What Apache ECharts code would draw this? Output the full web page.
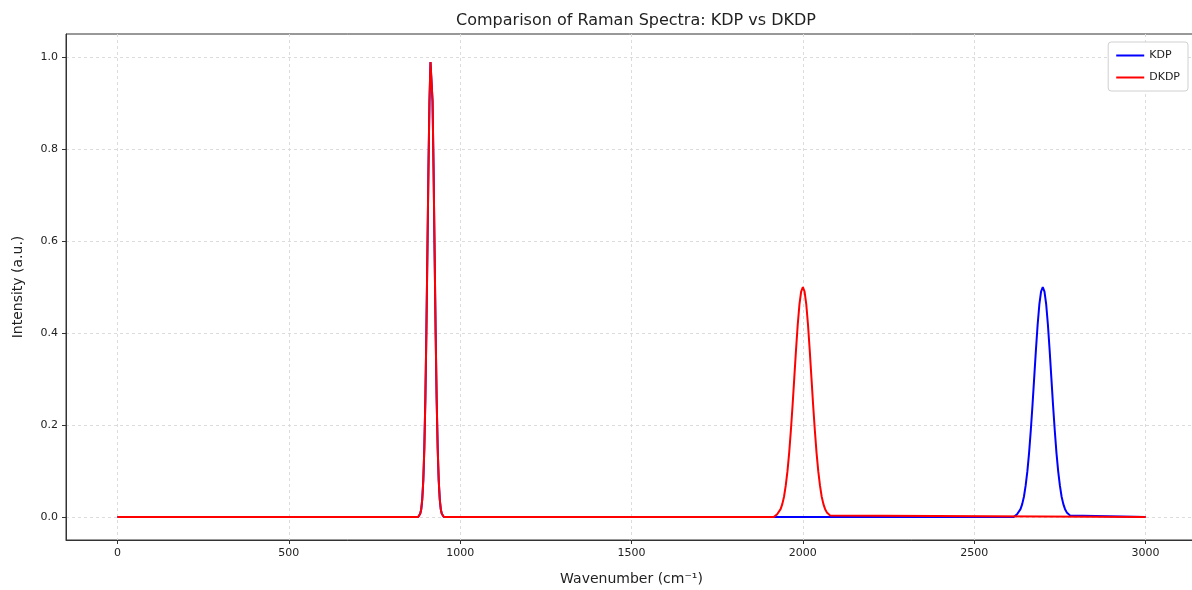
<!DOCTYPE html>
<html>
<head>
<meta charset="utf-8">
<script src="https://cdn.jsdelivr.net/npm/echarts@6/dist/echarts.min.js"></script>
<style>
  html, body { margin: 0; padding: 0; background: #fff; }
  #main { width: 1192px; height: 590px; }
</style>
</head>
<body>
<div id="main"></div>
<script>
// values: [wavenumber, intensity]
var kdpData = [
    [0, 0], [877.5, 0],
    [880.5, 0.003], [883.5, 0.007], [886.5, 0.017], [889.5, 0.039], [892.5, 0.080],
    [895.5, 0.149], [898.5, 0.256], [901.5, 0.402], [904.5, 0.576], [907.5, 0.755],
    [910.5, 0.904], [913.5, 0.989], [916.5, 0.989], [919.5, 0.904], [922.5, 0.755],
    [925.5, 0.576], [928.5, 0.402], [931.5, 0.256], [934.5, 0.149], [937.5, 0.080],
    [940.5, 0.039], [943.5, 0.017], [946.5, 0.007], [949.5, 0.003], [952.5, 0],
    [2615, 0],
    [2620, 0.003], [2625, 0.006], [2630, 0.010], [2635, 0.017], [2640, 0.028],
    [2645, 0.044], [2650, 0.068], [2655, 0.099], [2660, 0.139], [2665, 0.188],
    [2670, 0.243], [2675, 0.303], [2680, 0.363], [2685, 0.418], [2690, 0.462],
    [2695, 0.490], [2700, 0.500], [2705, 0.490], [2710, 0.462], [2715, 0.418],
    [2720, 0.363], [2725, 0.303], [2730, 0.243], [2735, 0.188], [2740, 0.139],
    [2745, 0.099], [2750, 0.068], [2755, 0.044], [2760, 0.028], [2765, 0.017],
    [2770, 0.010], [2775, 0.006], [2780, 0.003], [2785, 0],
    [3000, 0]
];

var dkdpData = [
    [0, 0], [877.5, 0],
    [880.5, 0.003], [883.5, 0.007], [886.5, 0.017], [889.5, 0.039], [892.5, 0.080],
    [895.5, 0.149], [898.5, 0.256], [901.5, 0.402], [904.5, 0.576], [907.5, 0.755],
    [910.5, 0.904], [913.5, 0.989], [916.5, 0.989], [919.5, 0.904], [922.5, 0.755],
    [925.5, 0.576], [928.5, 0.402], [931.5, 0.256], [934.5, 0.149], [937.5, 0.080],
    [940.5, 0.039], [943.5, 0.017], [946.5, 0.007], [949.5, 0.003], [952.5, 0],
    [1915, 0],
    [1920, 0.003], [1925, 0.006], [1930, 0.010], [1935, 0.017], [1940, 0.028],
    [1945, 0.044], [1950, 0.068], [1955, 0.099], [1960, 0.139], [1965, 0.188],
    [1970, 0.243], [1975, 0.303], [1980, 0.363], [1985, 0.418], [1990, 0.462],
    [1995, 0.490], [2000, 0.500], [2005, 0.490], [2010, 0.462], [2015, 0.418],
    [2020, 0.363], [2025, 0.303], [2030, 0.243], [2035, 0.188], [2040, 0.139],
    [2045, 0.099], [2050, 0.068], [2055, 0.044], [2060, 0.028], [2065, 0.017],
    [2070, 0.010], [2075, 0.006], [2080, 0.003], [2085, 0],
    [3000, 0]
];

var xTicks = [0, 500, 1000, 1500, 2000, 2500, 3000];
var yTicks = [0, 0.2, 0.4, 0.6, 0.8, 1.0];

var chart = echarts.init(document.getElementById('main'));
var font = 'DejaVu Sans';

var option = {
    animation: false,
    backgroundColor: '#fff',
    title: {
        text: 'Comparison of Raman Spectra: KDP vs DKDP',
        left: 631,
        textAlign: 'center',
        top: 8,
        textStyle: { fontFamily: font, fontSize: 16, fontWeight: 'normal', color: '#222' }
    },
    legend: {
        data: ['KDP', 'DKDP'],
        orient: 'vertical',
        right: 4,
        top: 42,
        icon: 'rect',
        itemWidth: 28,
        itemHeight: 2,
        itemGap: 11,
        padding: [8, 8, 8, 8],
        borderColor: '#d0d0d0',
        borderWidth: 1,
        borderRadius: 3,
        backgroundColor: '#fff',
        textStyle: { fontFamily: font, fontSize: 11, color: '#222' }
    },
    grid: {
        left: 66, top: 34, width: 1131, height: 506,
        outerBoundsMode: 'none', containLabel: false,
        show: true, borderColor: '#333', borderWidth: 1
    },
    xAxis: {
        type: 'value',
        min: -150,
        max: 3150,
        name: 'Wavenumber (cm⁻¹)',
        nameLocation: 'middle',
        nameGap: 32,
        nameTextStyle: { fontFamily: font, fontSize: 14, color: '#222' },
        axisLine: { show: true, onZero: false, lineStyle: { color: '#333' } },
        axisTick: { show: true, length: 4, customValues: xTicks, lineStyle: { color: '#333' } },
        axisLabel: {
            customValues: xTicks, fontFamily: font, fontSize: 11, color: '#222', margin: 8,
            formatter: function (v) { return String(v); }
        },
        splitLine: { show: true, lineStyle: { color: '#dcdcdc', type: [3, 3] } }
    },
    yAxis: {
        type: 'value',
        min: -0.05,
        max: 1.05,
        name: 'Intensity (a.u.)',
        nameLocation: 'middle',
        nameGap: 41,
        nameTextStyle: { fontFamily: font, fontSize: 14, color: '#222' },
        axisLine: { show: true, onZero: false, lineStyle: { color: '#333' } },
        axisTick: { show: true, length: 4, customValues: yTicks, lineStyle: { color: '#333' } },
        axisLabel: {
            customValues: yTicks,
            fontFamily: font, fontSize: 11, color: '#222', margin: 8,
            formatter: function (v) { return v.toFixed(1); }
        },
        splitLine: { show: true, lineStyle: { color: '#dcdcdc', type: [3, 3] } }
    },
    series: [
        {
            name: 'KDP',
            type: 'line',
            data: kdpData,
            symbol: 'none',
            color: '#0000ff',
            lineStyle: { width: 2, color: '#0000ff' },
            z: 2
        },
        {
            name: 'DKDP',
            type: 'line',
            data: dkdpData,
            symbol: 'none',
            color: '#ff0000',
            lineStyle: { width: 2, color: '#ff0000' },
            z: 3
        }
    ]
};

chart.setOption(option);
</script>
</body>
</html>
